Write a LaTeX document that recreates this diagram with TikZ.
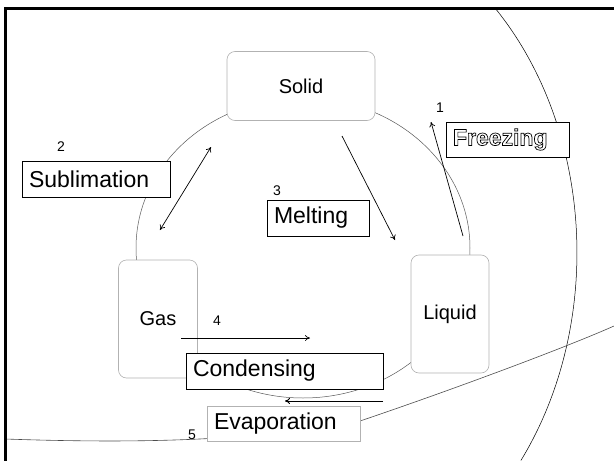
\documentclass[tikz,border=0pt]{standalone}
\usepackage{fontspec}
\setmainfont{Liberation Sans}
\usetikzlibrary{arrows.meta}
\newcommand{\hollow}[1]{\special{pdf:literal direct 1 Tr 0.7 w}#1\special{pdf:literal direct 0 Tr}}

\begin{document}
\begin{tikzpicture}[x=1pt,y=-1pt]
\tikzstyle{phase}=[draw=gray!60,fill=white,rounded corners=8pt,line width=0.6pt,font=\fontsize{20}{24}\selectfont]
\tikzstyle{process}=[draw=black,fill=white,line width=1pt,inner xsep=7pt,minimum height=36pt,align=left,font=\fontsize{23}{26}\selectfont]
\tikzstyle{num}=[font=\fontsize{14}{16}\selectfont]
\tikzstyle{arr}=[-{To[length=5pt,width=6pt]},line width=0.7pt]
\useasboundingbox (0,0) rectangle (614,461);
\draw[gray!70!black,line width=0.5pt] (303,248) ellipse [x radius=167pt,y radius=150pt];
\draw[line width=0.5pt] (495,8) arc[start angle=45.5,end angle=-37.3,x radius=274pt,y radius=343pt];
\draw[gray!60!black,line width=0.6pt] (5,439) .. controls (150,444) and (260,440) .. (360,421)
  .. controls (440,394) and (560,350) .. (614,326);
\node[phase,minimum width=148pt,minimum height=69pt] (S) at (301,86) {Solid};
\node[phase,minimum width=79pt,minimum height=118pt] (G) at (158,319) {Gas};
\node[phase,minimum width=78pt,minimum height=118pt] (L) at (450,314) {Liquid};
\node[process,text width=134pt] (sub) at (96,179) {Sublimation};
\node[process,text width=88pt] (mel) at (318,218) {Melting};
\node[process,text width=183pt] (con) at (284.5,371) {Condensing};
\node[process,draw=gray!60,text width=139pt,minimum height=35pt] (eva) at (283.5,423.5) {Evaporation};
\node[process,text width=109pt,minimum height=35pt] (fre) at (507.5,139.5) {\bfseries\hollow{Freezing}};
\node[num] (n1) at (440,108) {1};
\node[num] (n2) at (61,147) {2};
\node[num] (n3) at (277,191) {3};
\node[num] (n4) at (217,321) {4};
\node[num] (n5) at (192,435) {5};
\coordinate (f1) at (463,236); \coordinate (f2) at (431,122);
\coordinate (m1) at (342,136); \coordinate (m2) at (395,240);
\coordinate (s1) at (211,147); \coordinate (s2) at (160,230);
\coordinate (c1) at (181,338); \coordinate (c2) at (310,338);
\coordinate (e1) at (383,401); \coordinate (e2) at (285,401);
\draw[arr] (f1) -- (f2);
\draw[arr] (m1) -- (m2);
\draw[arr,{To[length=5pt,width=6pt]}-{To[length=5pt,width=6pt]}] (s1) -- (s2);
\draw[arr] (c1) -- (c2);
\draw[arr,line width=1pt] (e1) -- (e2);
\draw[line width=3pt] (5.5,461) -- (5.5,8.5) -- (614,8.5);
\end{tikzpicture}
\end{document}
